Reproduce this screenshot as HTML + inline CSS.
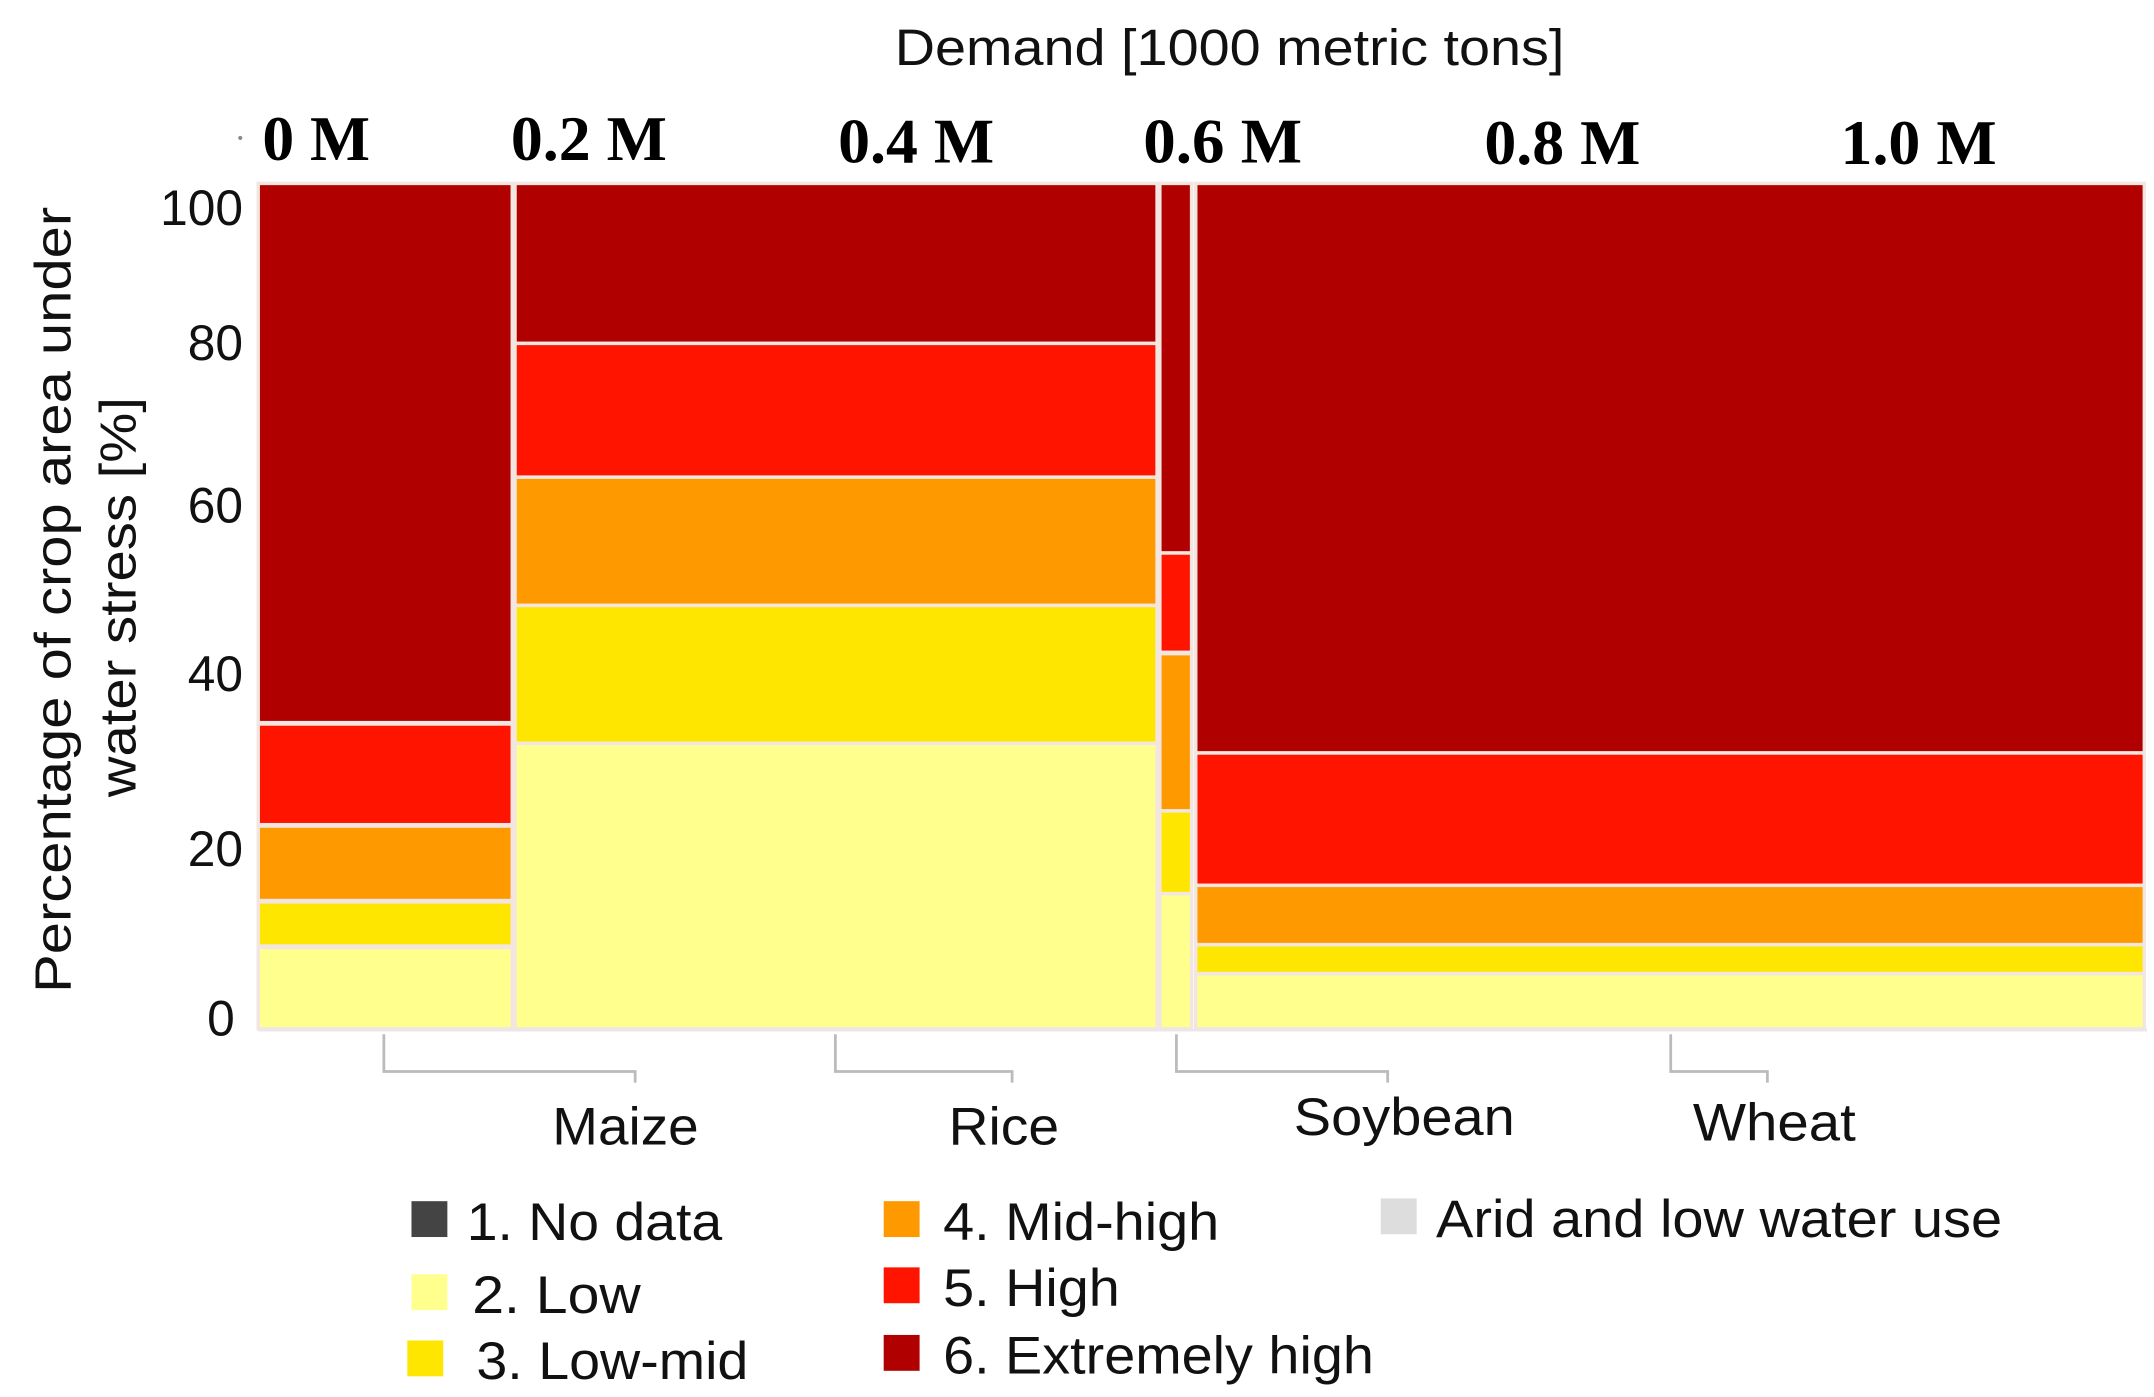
<!DOCTYPE html>
<html><head><meta charset="utf-8"><style>
html,body{margin:0;padding:0;background:#fff;}
svg{display:block;}
.s{font-family:"Liberation Sans",sans-serif;fill:#111;}
.t{font-family:"Liberation Serif",serif;font-weight:bold;fill:#000;}
</style></head><body>
<svg width="2154" height="1397" viewBox="0 0 1560 1013" preserveAspectRatio="none" xmlns="http://www.w3.org/2000/svg">
<rect width="1560" height="1013" fill="#fff"/>
<g stroke="#f3e6e0" stroke-width="2.5">
<rect x="187" y="133" width="184" height="391" fill="#b00000"/>
<rect x="187" y="525" width="184" height="73" fill="#ff1400"/>
<rect x="187" y="599" width="184" height="54" fill="#ff9900"/>
<rect x="187" y="654" width="184" height="32" fill="#ffe600"/>
<rect x="187" y="687" width="184" height="59" fill="#ffff8e"/>
<rect x="373" y="133" width="465" height="116" fill="#b00000"/>
<rect x="373" y="249" width="465" height="97" fill="#ff1400"/>
<rect x="373" y="346" width="465" height="93" fill="#ff9900"/>
<rect x="373" y="439" width="465" height="100" fill="#ffe600"/>
<rect x="373" y="539" width="465" height="207" fill="#ffff8e"/>
<rect x="840" y="133" width="23" height="268" fill="#b00000"/>
<rect x="840" y="401" width="23" height="72" fill="#ff1400"/>
<rect x="840" y="474" width="23" height="114" fill="#ff9900"/>
<rect x="840" y="588" width="23" height="60" fill="#ffe600"/>
<rect x="840" y="648" width="23" height="98" fill="#ffff8e"/>
<rect x="866" y="133" width="687" height="413" fill="#b00000"/>
<rect x="866" y="546" width="687" height="96" fill="#ff1400"/>
<rect x="866" y="642" width="687" height="43" fill="#ff9900"/>
<rect x="866" y="685" width="687" height="21" fill="#ffe600"/>
<rect x="866" y="706" width="687" height="40" fill="#ffff8e"/>
</g>
<line x1="187" y1="747" x2="1555" y2="747" stroke="#e8e8e8" stroke-width="2"/>
<g fill="none" stroke="#bbb" stroke-width="2">
<polyline points="278,750 278,777 460,777 460,785"/>
<polyline points="605,750 605,777 733,777 733,785"/>
<polyline points="852,750 852,777 1005,777 1005,785"/>
<polyline points="1210,750 1210,777 1280,777 1280,785"/>
</g>
<text class="s" x="648" y="47" font-size="37" textLength="485" lengthAdjust="spacingAndGlyphs">Demand [1000 metric tons]</text>
<g class="t" font-size="46">
<text x="190" y="116" textLength="78" lengthAdjust="spacingAndGlyphs">0 M</text>
<text x="370" y="116" textLength="113" lengthAdjust="spacingAndGlyphs">0.2 M</text>
<text x="607" y="118" textLength="113" lengthAdjust="spacingAndGlyphs">0.4 M</text>
<text x="828" y="118" textLength="115" lengthAdjust="spacingAndGlyphs">0.6 M</text>
<text x="1075" y="119" textLength="113" lengthAdjust="spacingAndGlyphs">0.8 M</text>
<text x="1333" y="119" textLength="113" lengthAdjust="spacingAndGlyphs">1.0 M</text>
</g>
<circle cx="174" cy="100" r="1.5" fill="#888"/>
<g class="s" font-size="36" text-anchor="end">
<text x="176" y="163">100</text>
<text x="176" y="261">80</text>
<text x="176" y="379">60</text>
<text x="176" y="501">40</text>
<text x="176" y="628">20</text>
<text x="170" y="751">0</text>
</g>
<g class="s" font-size="37">
<text transform="translate(51,720) rotate(-90)" textLength="570" lengthAdjust="spacingAndGlyphs">Percentage of crop area under</text>
<text transform="translate(98,578) rotate(-90)" textLength="290" lengthAdjust="spacingAndGlyphs">water stress [%]</text>
</g>
<g class="s" font-size="38">
<text x="400" y="830" textLength="106" lengthAdjust="spacingAndGlyphs">Maize</text>
<text x="687" y="830" textLength="80" lengthAdjust="spacingAndGlyphs">Rice</text>
<text x="937" y="823" textLength="160" lengthAdjust="spacingAndGlyphs">Soybean</text>
<text x="1226" y="827" textLength="118" lengthAdjust="spacingAndGlyphs">Wheat</text>
</g>
<g class="s" font-size="38">
<rect x="298" y="871" width="26" height="26" fill="#444"/><text x="338" y="899" textLength="185" lengthAdjust="spacingAndGlyphs">1. No data</text>
<rect x="298" y="924" width="26" height="26" fill="#ffff8e"/><text x="342" y="952" textLength="122" lengthAdjust="spacingAndGlyphs">2. Low</text>
<rect x="295" y="972" width="26" height="26" fill="#ffe600"/><text x="345" y="1000" textLength="197" lengthAdjust="spacingAndGlyphs">3. Low-mid</text>
<rect x="640" y="871" width="26" height="26" fill="#ff9900"/><text x="683" y="899" textLength="200" lengthAdjust="spacingAndGlyphs">4. Mid-high</text>
<rect x="640" y="919" width="26" height="26" fill="#ff1400"/><text x="683" y="947" textLength="128" lengthAdjust="spacingAndGlyphs">5. High</text>
<rect x="640" y="968" width="26" height="26" fill="#b00000"/><text x="683" y="996" textLength="312" lengthAdjust="spacingAndGlyphs">6. Extremely high</text>
<rect x="1000" y="869" width="26" height="26" fill="#ddd"/><text x="1040" y="897" textLength="410" lengthAdjust="spacingAndGlyphs">Arid and low water use</text>
</g>
</svg>
</body></html>
